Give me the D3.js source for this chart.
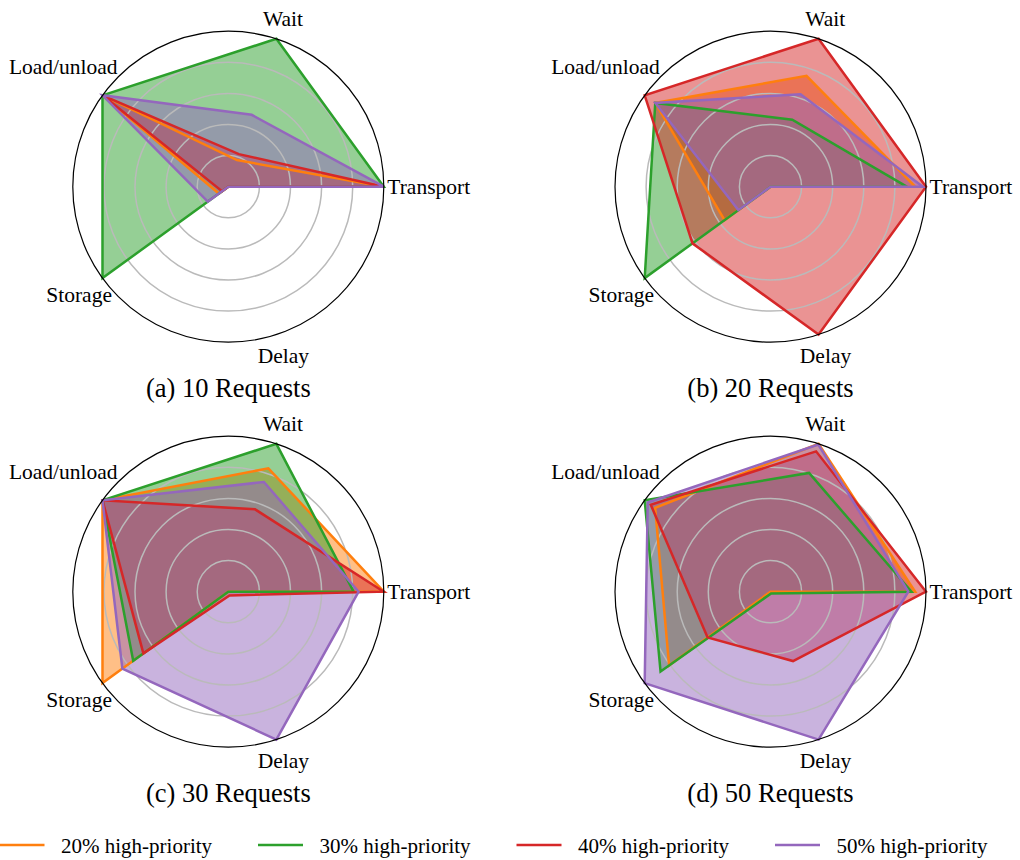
<!DOCTYPE html>
<html>
<head>
<meta charset="utf-8">
<script src="https://cdn.jsdelivr.net/npm/d3@7"></script>
<style>
  body { margin: 0; background: #fff; }
  svg { display: block; }
  text { font-family: "Liberation Serif", "Times New Roman", serif; fill: #000; }
</style>
</head>
<body>
<svg id="chart" width="1020" height="860"></svg>
<script>
// Radar axes, series and panels
const axes = ["Transport", "Wait", "Load/unload", "Storage", "Delay"];
const seriesNames = ["20% high-priority", "30% high-priority", "40% high-priority", "50% high-priority"];
const seriesColors = ["#ff7f0e", "#2ca02c", "#d62728", "#9467bd"];
const panelTitles = ["(a) 10 Requests", "(b) 20 Requests", "(c) 30 Requests", "(d) 50 Requests"];
const gridLevels = [0.2, 0.4, 0.6, 0.8];

// Normalised scores per series, in axis order
const requests10 = [
  [1.00, 0.18, 1.00, 0.075, 0.00],
  [1.00, 1.00, 1.00, 1.00, 0.00],
  [1.00, 0.22, 1.00, 0.05, 0.00],
  [1.00, 0.486, 1.00, 0.163, 0.00]
];
const requests20 = [
  [0.93, 0.75, 0.916, 0.365, 0.00],
  [0.876, 0.453, 0.916, 1.00, 0.00],
  [1.00, 1.00, 1.00, 0.62, 1.00],
  [0.98, 0.625, 0.916, 0.256, 0.00]
];
const requests30 = [
  [1.00, 0.834, 1.00, 1.00, 0.00],
  [0.806, 1.00, 1.00, 0.756, 0.00],
  [1.00, 0.557, 1.00, 0.675, 0.025],
  [0.838, 0.742, 1.00, 0.842, 1.00]
];
const requests50 = [
  [0.93, 1.00, 0.917, 0.806, 0.00],
  [0.907, 0.803, 1.00, 0.874, 0.012],
  [1.00, 0.949, 0.952, 0.50, 0.469],
  [0.886, 0.995, 0.976, 1.00, 1.00]
];
const panels = [requests10, requests20, requests30, requests50];

// Layout
const R = 155.5;
const colX = [228.3, 770.5];
const rowY = [186.7, 591.7];
const labelRadius = [1.289, 1.138, 1.312, 1.186, 1.145];

const svg = d3.select("#chart");

const rScale = d3.scaleLinear().domain([0, 1]).range([0, R]);
// d3 radial angle: 0 at 12 o'clock, clockwise; first axis sits at 3 o'clock, going counter-clockwise
const angleScale = d3.scaleLinear().domain([0, axes.length]).range([Math.PI / 2, Math.PI / 2 - 2 * Math.PI]);

const radarLine = d3.lineRadial()
  .angle((d, i) => angleScale(i))
  .radius(d => rScale(d))
  .curve(d3.curveLinearClosed);

panels.forEach((data, p) => {
  const cx = colX[p % 2], cy = rowY[Math.floor(p / 2)];
  const g = svg.append("g").attr("transform", `translate(${cx},${cy})`);

  // filled areas
  g.append("g").selectAll("path")
    .data(data).join("path")
    .attr("d", d => radarLine(d))
    .attr("fill", (d, i) => seriesColors[i])
    .attr("fill-opacity", 0.5)
    .attr("stroke", "none");

  // concentric grid
  g.append("g").selectAll("circle")
    .data(gridLevels).join("circle")
    .attr("r", d => rScale(d))
    .attr("fill", "none")
    .attr("stroke", "#bababa")
    .attr("stroke-width", 1.5);

  // outlines
  g.append("g").selectAll("path")
    .data(data).join("path")
    .attr("d", d => radarLine(d))
    .attr("fill", "none")
    .attr("stroke", (d, i) => seriesColors[i])
    .attr("stroke-width", 2.5)
    .attr("stroke-linejoin", "miter");

  // frame
  g.append("circle")
    .attr("r", rScale(1))
    .attr("fill", "none")
    .attr("stroke", "#000")
    .attr("stroke-width", 1.2);

  // axis labels
  g.append("g").selectAll("text")
    .data(axes).join("text")
    .attr("x", (d, i) => Math.sin(angleScale(i)) * R * labelRadius[i])
    .attr("y", (d, i) => -Math.cos(angleScale(i)) * R * labelRadius[i])
    .attr("dy", "0.33em")
    .attr("text-anchor", "middle")
    .style("font-size", "21.5px")
    .text(d => d);

  // panel caption
  g.append("text")
    .attr("x", 0)
    .attr("y", 210.5)
    .attr("text-anchor", "middle")
    .style("font-size", "26.5px")
    .text(panelTitles[p]);
});

// legend
const legend = svg.append("g").attr("transform", "translate(-0.5,845)");
const item = legend.selectAll("g")
  .data(seriesNames).join("g")
  .attr("transform", (d, i) => `translate(${i * 258.5},0)`);
item.append("line")
  .attr("x1", 0).attr("x2", 45)
  .attr("y1", 0).attr("y2", 0)
  .attr("stroke", (d, i) => seriesColors[i])
  .attr("stroke-width", 2.5);
item.append("text")
  .attr("x", 61.5)
  .attr("y", 8)
  .style("font-size", "21px")
  .text(d => d);
</script>
</body>
</html>
